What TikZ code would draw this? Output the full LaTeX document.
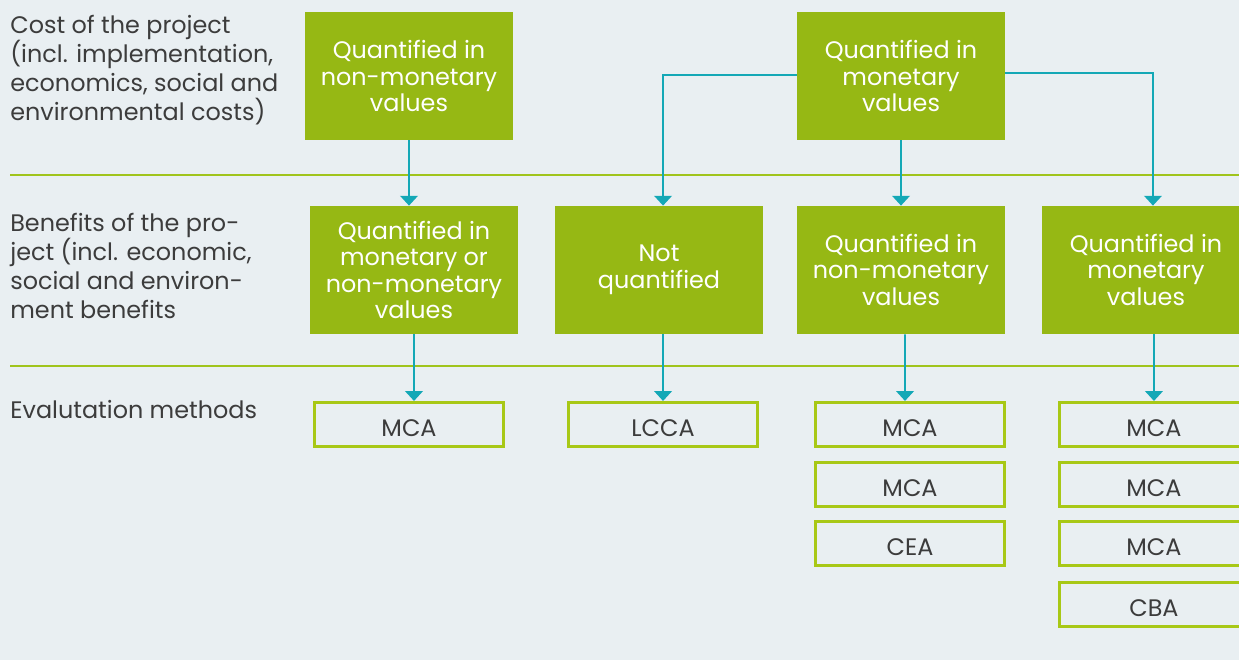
\documentclass[tikz,border=0pt]{standalone}
\usepackage{fontspec}
\setmainfont{Poppins}
\usetikzlibrary{arrows.meta, positioning}
\definecolor{boxgreen}{RGB}{150,184,20}
\definecolor{linegreen}{RGB}{160,196,28}
\definecolor{framegreen}{RGB}{168,200,22}
\definecolor{arrowteal}{RGB}{20,168,182}
\definecolor{bggray}{RGB}{233,239,242}
\definecolor{textgray}{RGB}{60,60,60}
\tikzstyle{greenbox} = [rectangle, minimum width=4.16cm, minimum height=2.56cm, inner sep=0pt, align=center, fill=boxgreen, text=white, font=\fontsize{13.6}{15.1}\selectfont]
\tikzstyle{method} = [rectangle, minimum width=3.78cm, minimum height=0.88cm, inner sep=0pt, text height=14pt, text depth=0pt, draw=framegreen, line width=1.7pt, text=textgray, font=\fontsize{13.6}{15}\selectfont]
\tikzstyle{rowlabel} = [anchor=north west, inner sep=0pt, align=left, text=textgray, font=\fontsize{13.6}{16.5}\selectfont]
\tikzstyle{divider} = [draw=linegreen, line width=1.4pt]
\tikzstyle{arrow} = [draw=arrowteal, line width=1.1pt, -{Triangle[width=10pt,length=5.6pt]}]

\begin{document}
\begin{tikzpicture}[x=0.02cm, y=-0.02cm, node distance=3.88cm]
    \fill [bggray] (0,0) rectangle (1239,660);
    \useasboundingbox (0,0) rectangle (1239,660);

    \node (costlabel) [rowlabel] at (10,15) {Cost of the project\\(incl. implementation,\\economics, social and\\environmental costs)};
    \node (benefitlabel) [rowlabel] at (10,213) {Benefits of the pro-\\ject (incl. economic,\\social and environ-\\ment benefits};
    \node (methodlabel) [rowlabel] at (10,400) {Evalutation methods};

    \draw [divider] (10,175) -- (1239,175);
    \draw [divider] (10,366) -- (1239,366);

    \node (costnonmon) [greenbox] at (409,76) {Quantified in\\non-monetary\\values};
    \node (costmon) [greenbox] at (901,76) {Quantified in\\monetary\\values};
    \node (benmixed) [greenbox, below of=costnonmon, xshift=0.1cm] {Quantified in\\monetary or\\non-monetary\\values};
    \node (bennonmon) [greenbox, below of=costmon] {Quantified in\\non-monetary\\values};
    \node (bennone) [greenbox, left of=bennonmon, xshift=-0.96cm] {Not\\quantified};
    \node (benmon) [greenbox, right of=bennonmon, xshift=1.02cm] {Quantified in\\monetary\\values};

    \node (mixedmca) [method, node distance=3.09cm, below of=benmixed, xshift=-0.1cm] {MCA};
    \node (nonelcca) [method, node distance=3.09cm, below of=bennone, xshift=0.08cm] {LCCA};
    \node (nonmonmca) [method, node distance=3.09cm, below of=bennonmon, xshift=0.18cm] {MCA};
    \node (nonmonmcb) [method, node distance=1.2cm, below of=nonmonmca] {MCA};
    \node (nonmoncea) [method, node distance=1.18cm, below of=nonmonmcb] {CEA};
    \node (monmca) [method, node distance=3.09cm, below of=benmon, xshift=0.16cm] {MCA};
    \node (monmcb) [method, node distance=1.2cm, below of=monmca] {MCA};
    \node (monmcc) [method, node distance=1.18cm, below of=monmcb] {MCA};
    \node (moncba) [method, node distance=1.22cm, below of=monmcc] {CBA};

    \draw [arrow] (costnonmon) -- (costnonmon |- benmixed.north);
    \draw [arrow] ([yshift=0.02cm]costmon.west) -| (nonelcca.north |- bennone.north);
    \draw [arrow] (costmon) -- (bennonmon);
    \draw [arrow] ([yshift=0.06cm]costmon.east) -| ([xshift=0.14cm]benmon.north);
    \draw [arrow] (benmixed) -- (benmixed |- mixedmca.north);
    \draw [arrow] (nonelcca |- bennone.south) -- (nonelcca);
    \draw [arrow] ([xshift=0.08cm]bennonmon.south) -- ([xshift=-0.1cm]nonmonmca.north);
    \draw [arrow] (monmca |- benmon.south) -- (monmca);
\end{tikzpicture}
\end{document}
